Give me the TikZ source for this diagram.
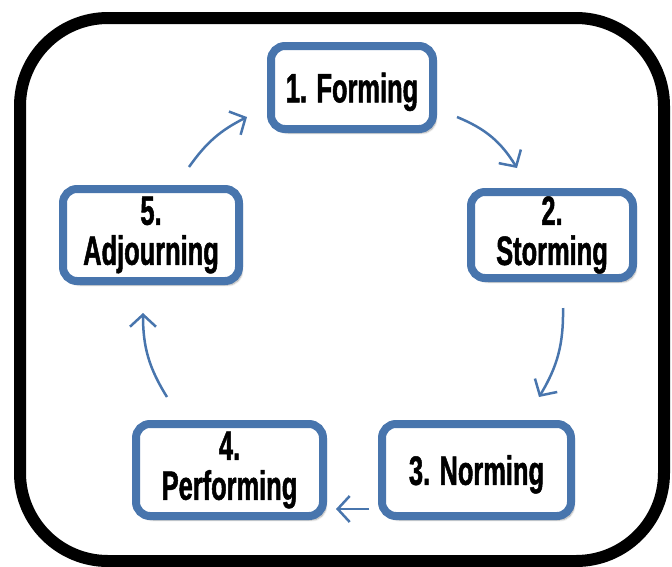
\documentclass[tikz,border=0pt]{standalone}
\usepackage{fontspec}
\newfontfamily\stagefont{Liberation Sans}[FakeStretch=0.62,FakeBold=1.2]
\usetikzlibrary{arrows.meta,shadows.blur}
\definecolor{stageblue}{RGB}{72,117,173}
\begin{document}
\begin{tikzpicture}[x=1pt,y=-1pt,
  stagebox/.style={draw=stageblue, line width=8pt, rounded corners=14pt, fill=white,
    blur shadow={shadow xshift=3pt, shadow yshift=-4pt, shadow blur steps=6, shadow opacity=35},
    align=center, inner sep=0pt,
    font=\stagefont\bfseries\fontsize{41}{40}\selectfont},
  oneline/.style={text depth=0pt},
  cyclearrow/.style={draw=stageblue, line width=2.5pt,
    -{Straight Barb[length=12pt,width=26pt,line width=2.5pt]}}]
  \useasboundingbox (0,0) rectangle (672,566);
  % outer frame
  \draw[line width=12pt, rounded corners=88pt] (20,18) rectangle (664,561);

  % stage boxes
  \node[stagebox, oneline, minimum width=162pt, minimum height=83pt] (forming) at (352,87.5) {1. Forming};
  \node[stagebox, minimum width=162pt, minimum height=86pt] (storming) at (552,235) {2.\\Storming};
  \node[stagebox, oneline, minimum width=189pt, minimum height=92pt] (norming) at (476.5,470) {3. Norming};
  \node[stagebox, minimum width=187pt, minimum height=92pt] (performing) at (229.5,470) {4.\\Performing};
  \node[stagebox, minimum width=176pt, minimum height=92pt] (adjourning) at (151,235) {5.\\Adjourning};

  % arrow ends
  \coordinate (a1s) at (457,117);  \coordinate (a1e) at (517,168);
  \coordinate (a2s) at (563,308);  \coordinate (a2e) at (539,397);
  \coordinate (a3s) at (369,509);  \coordinate (a3e) at (336,509);
  \coordinate (a4s) at (167,397);  \coordinate (a4e) at (143,313);
  \coordinate (a5s) at (189,167);  \coordinate (a5e) at (247,117);

  \draw[cyclearrow] (a1s) to[bend left=18] (a1e);
  \draw[cyclearrow] (a2s) to[bend left=16] (a2e);
  \draw[cyclearrow] (a3s) -- (a3e);
  \draw[cyclearrow] (a4s) to[bend left=16] (a4e);
  \draw[cyclearrow] (a5s) to[bend left=14] (a5e);
\end{tikzpicture}
\end{document}
